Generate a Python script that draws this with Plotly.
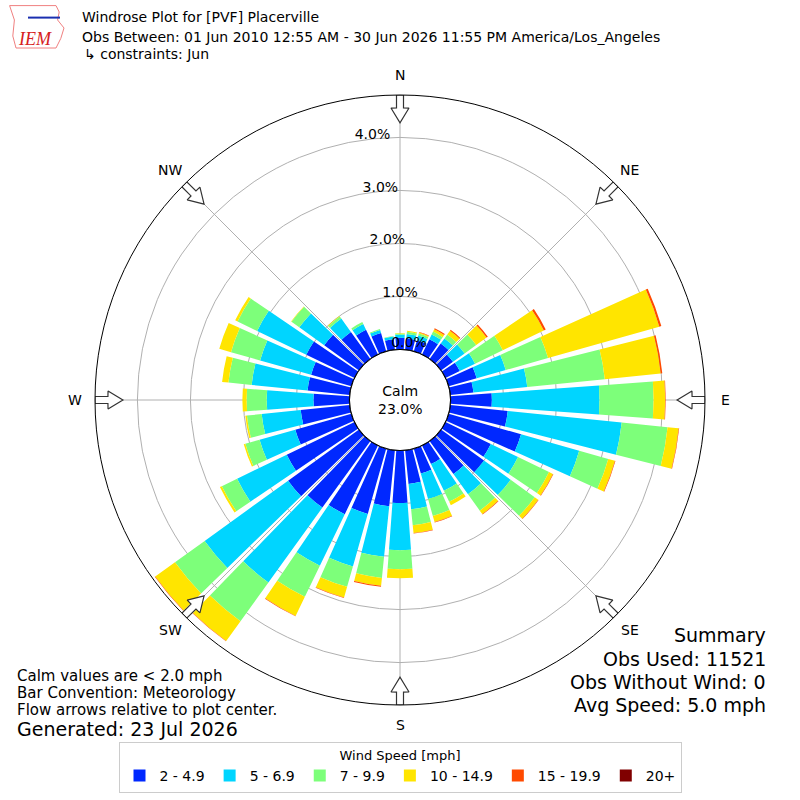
import numpy as np
import plotly.graph_objects as go

# frecuencias (%) por dirección (de donde viene el viento), 10 grados cada una
direcciones = list(range(0, 360, 10))
bins = ["2 - 4.9", "5 - 6.9", "7 - 9.9", "10 - 14.9", "15 - 19.9", "20+"]
colores = ["#0028ff", "#00d5ff", "#7dff7a", "#ffe500", "#ff4a00", "#800000"]

v_2_5 = [0.22, 0.22, 0.22, 0.32, 0.36, 0.28, 0.30, 0.55, 0.44, 0.78, 1.09, 1.42,
         0.95, 1.00, 0.77, 0.39, 0.49, 0.64, 0.99, 1.06, 1.28, 1.44, 1.55, 1.65,
         1.42, 1.10, 0.93, 0.68, 0.80, 0.79, 1.01, 0.81, 0.63, 0.52, 0.36, 0.20]
v_5_7 = [0.06, 0.08, 0.09, 0.10, 0.12, 0.27, 0.32, 0.57, 1.02, 2.03, 2.16, 1.14,
         0.57, 0.62, 0.47, 0.56, 0.50, 0.48, 0.89, 0.96, 1.03, 1.08, 1.74, 1.94,
         1.04, 0.70, 0.74, 0.88, 1.06, 1.00, 1.03, 0.58, 0.31, 0.12, 0.06, 0.05]
v_7_10 = [0.02, 0.04, 0.04, 0.06, 0.09, 0.27, 0.58, 0.83, 1.47, 1.02, 0.87, 0.57,
          0.65, 0.56, 0.38, 0.23, 0.33, 0.30, 0.36, 0.40, 0.40, 0.65, 0.90, 0.69,
          0.32, 0.28, 0.28, 0.38, 0.44, 0.57, 0.41, 0.18, 0.05, 0.04, 0.02, 0.01]
v_10_15 = [0.01, 0.02, 0.02, 0.05, 0.09, 0.24, 0.86, 2.18, 1.06, 0.22, 0.21, 0.13,
           0.08, 0.08, 0.08, 0.07, 0.12, 0.15, 0.17, 0.15, 0.21, 0.40, 0.46, 0.46,
           0.04, 0.03, 0.03, 0.08, 0.12, 0.23, 0.05, 0.01, 0.01, 0.0, 0.0, 0.0]
v_15_20 = [0.0, 0.0, 0.01, 0.02, 0.02, 0.03, 0.04, 0.04, 0.03, 0.01, 0.01, 0.01,
           0.01, 0.01, 0.01, 0.0, 0.01, 0.01, 0.0, 0.02, 0.01, 0.01, 0.01, 0.01,
           0.0, 0.0, 0.0, 0.0, 0.0, 0.0, 0.0, 0.0, 0.0, 0.0, 0.0, 0.0]
v_20 = [0.0] * 36
series = [v_2_5, v_5_7, v_7_10, v_10_15, v_15_20, v_20]

calm = 23.0
anillos = [0, 1, 2, 3, 4]
puntos = ["N", "NE", "E", "SE", "S", "SW", "W", "NW"]
angulos_puntos = [0, 45, 90, 135, 180, 225, 270, 315]

# geometria (px) para convertir a unidades del eje radial
R_HOLE, PX_POR_PCT, R_MAX = 50.5, 53.0, 4.8
CX, CY = 400, 400
FONT = "DejaVu Sans"


def px_a_r(px):
    return (px - R_HOLE) / PX_POR_PCT


fig = go.Figure()

for nombre, color, vals in zip(bins, colores, series):
    fig.add_trace(go.Barpolar(r=vals, theta=direcciones, width=8.4, name=nombre,
                              marker=dict(color=color, line=dict(width=0)),
                              hoverinfo="skip"))

# circulo del calmo
th = np.linspace(0, 360, 361)
fig.add_trace(go.Scatterpolar(r=[0] * len(th), theta=th, mode="lines",
                              line=dict(color="black", width=1.2),
                              showlegend=False, hoverinfo="skip", cliponaxis=False))

# flechas huecas hacia el centro
forma = [(305, -3.5), (292, -3.5), (292, -9), (277, 0), (292, 9), (292, 3.5), (305, 3.5), (305, -3.5)]
for ang in angulos_puntos:
    rr = [px_a_r(p) for p, _ in forma]
    tt = [ang + np.degrees(w / p) for p, w in forma]
    fig.add_trace(go.Scatterpolar(r=rr, theta=tt, mode="lines", fill="toself",
                                  fillcolor="white", line=dict(color="#333333", width=1.2),
                                  showlegend=False, hoverinfo="skip", cliponaxis=False))

# etiquetas radiales
desp = [9, 0, -13, -20, -28]
th_lab = [np.degrees(np.arcsin(d / (R_HOLE + PX_POR_PCT * a))) for d, a in zip(desp, anillos)]
fig.add_trace(go.Scatterpolar(r=[max(a - 4 / PX_POR_PCT, 0) for a in anillos], theta=th_lab,
                              mode="text", text=[f"{a:.1f}%" for a in anillos],
                              textposition="top center",
                              textfont=dict(family=FONT, size=14, color="black"),
                              showlegend=False, hoverinfo="skip", cliponaxis=False))

d0 = 95 / 800
fig.update_layout(
    width=800, height=800, margin=dict(l=0, r=0, t=0, b=0),
    paper_bgcolor="white", plot_bgcolor="white",
    font=dict(family=FONT, size=14, color="black"),
    polar=dict(
        domain=dict(x=[d0, 1 - d0], y=[d0, 1 - d0]),
        hole=R_HOLE / (R_HOLE + PX_POR_PCT * R_MAX),
        bgcolor="white", barmode="stack",
        radialaxis=dict(range=[0, R_MAX], tickvals=[1, 2, 3, 4], showticklabels=False,
                        ticks="", showline=False, gridcolor="#b0b0b0", gridwidth=1,
                        layer="above traces"),
        angularaxis=dict(rotation=90, direction="clockwise", tickvals=angulos_puntos,
                         showticklabels=False, ticks="", showline=True, linecolor="black",
                         linewidth=1, gridcolor="#b0b0b0", gridwidth=1, layer="above traces"),
    ),
    legend=dict(orientation="h", x=0.5, xanchor="center", y=1 - 742 / 800, yanchor="top",
                title=dict(text="Wind Speed [mph]", side="top center", font=dict(size=13)),
                bordercolor="#cccccc", borderwidth=1, font=dict(size=14),
                itemclick=False, traceorder="normal"),
    showlegend=True,
)


def texto(x, y, t, size=14, anchor="left", color="black", family=FONT):
    fig.add_annotation(x=x / 800, y=1 - y / 800, xref="paper", yref="paper", text=t,
                       showarrow=False, xanchor=anchor, yanchor="middle",
                       font=dict(family=family, size=size, color=color))


# puntos cardinales fuera del circulo
for p, a in zip(puntos, angulos_puntos):
    texto(CX + 325 * np.sin(np.radians(a)), CY - 325 * np.cos(np.radians(a)), p, anchor="center")

texto(80, 17, "Windrose Plot for [PVF] Placerville")
texto(80, 37, "Obs Between: 01 Jun 2010 12:55 AM - 30 Jun 2026 11:55 PM America/Los_Angeles")
texto(82, 54, "↳ constraints: Jun")

texto(15, 676, "Calm values are < 2.0 mph", size=15)
texto(15, 693, "Bar Convention: Meteorology", size=15)
texto(15, 710, "Flow arrows relative to plot center.", size=15)
texto(15, 729, "Generated: 23 Jul 2026", size=19)

texto(768, 635, "Summary", size=19, anchor="right")
texto(768, 659, "Obs Used: 11521", size=19, anchor="right")
texto(768, 682, "Obs Without Wind: 0", size=19, anchor="right")
texto(768, 705, "Avg Speed: 5.0 mph", size=19, anchor="right")

fig.add_annotation(x=0.5, y=0.5, xref="paper", yref="paper", text=f"Calm<br>{calm:.1f}%",
                   showarrow=False, font=dict(family=FONT, size=14))

# logo IEM aproximado
fig.add_shape(type="path", xref="paper", yref="paper", line=dict(color="#f08080", width=1),
              path="M 0.012 0.993 L 0.070 0.993 L 0.074 0.985 L 0.072 0.975 L 0.080 0.965 "
                   "L 0.076 0.952 L 0.070 0.940 L 0.020 0.940 L 0.016 0.955 L 0.018 0.975 Z")
texto(16, 39, "<i>IEM</i>", size=18, color="#d62020", family="Liberation Serif")
fig.add_shape(type="line", xref="paper", yref="paper", x0=0.035, x1=0.075, y0=0.978, y1=0.978,
              line=dict(color="#1a2fb0", width=2))

fig.write_html("out.html", config={"displayModeBar": False},
               post_script="document.body.style.margin='0';")
